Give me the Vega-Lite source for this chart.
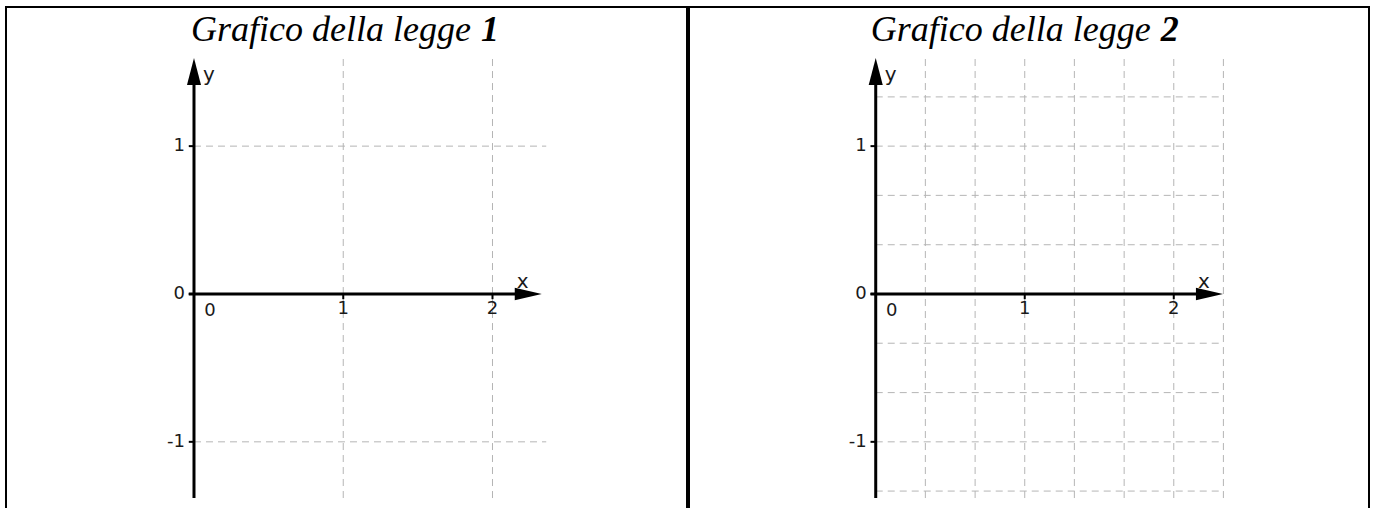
{
  "$schema": "https://vega.github.io/schema/vega-lite/v6.json",
  "padding": {"left": 5, "top": 6, "right": 0, "bottom": 0},
  "spacing": 0,
  "background": "white",
  "config": {"view": {"stroke": "black", "strokeWidth": 2}},
  "datasets": {
    "grid1": [
      {"x": 1, "y": -1.38, "x2": 1, "y2": 1.6},
      {"x": 2, "y": -1.38, "x2": 2, "y2": 1.6},
      {"x": 0, "y": 1, "x2": 2.36, "y2": 1},
      {"x": 0, "y": -1, "x2": 2.36, "y2": -1}
    ],
    "grid2": [
      {"x": 0.333, "y": -1.38, "x2": 0.333, "y2": 1.6},
      {"x": 0.667, "y": -1.38, "x2": 0.667, "y2": 1.6},
      {"x": 1, "y": -1.38, "x2": 1, "y2": 1.6},
      {"x": 1.333, "y": -1.38, "x2": 1.333, "y2": 1.6},
      {"x": 1.667, "y": -1.38, "x2": 1.667, "y2": 1.6},
      {"x": 2, "y": -1.38, "x2": 2, "y2": 1.6},
      {"x": 2.333, "y": -1.38, "x2": 2.333, "y2": 1.6},
      {"x": 0, "y": 1.333, "x2": 2.333, "y2": 1.333},
      {"x": 0, "y": 1, "x2": 2.333, "y2": 1},
      {"x": 0, "y": 0.667, "x2": 2.333, "y2": 0.667},
      {"x": 0, "y": 0.333, "x2": 2.333, "y2": 0.333},
      {"x": 0, "y": -0.333, "x2": 2.333, "y2": -0.333},
      {"x": 0, "y": -0.667, "x2": 2.333, "y2": -0.667},
      {"x": 0, "y": -1, "x2": 2.333, "y2": -1},
      {"x": 0, "y": -1.333, "x2": 2.333, "y2": -1.333}
    ],
    "axes": [
      {"x": 0, "y": -1.38, "x2": 0, "y2": 1.5},
      {"x": -0.035, "y": 0, "x2": 2.22, "y2": 0}
    ],
    "ticks": [
      {"x": -0.035, "y": 1, "x2": 0, "y2": 1},
      {"x": -0.035, "y": 0, "x2": 0, "y2": 0},
      {"x": -0.035, "y": -1, "x2": 0, "y2": -1},
      {"x": 1, "y": 0, "x2": 1, "y2": -0.035},
      {"x": 2, "y": 0, "x2": 2, "y2": -0.035}
    ],
    "arrows": [
      {"x": 0, "y": 1.596, "dir": "up"},
      {"x": 2.33, "y": 0, "dir": "right"}
    ],
    "ylabels": [
      {"x": 0, "y": 1, "t": "1"},
      {"x": 0, "y": 0, "t": "0"},
      {"x": 0, "y": -1, "t": "-1"}
    ],
    "xlabels": [
      {"x": 1, "y": 0, "t": "1"},
      {"x": 2, "y": 0, "t": "2"}
    ],
    "origin": [
      {"x": 0, "y": 0, "t": "0"}
    ]
  },
  "hconcat": [
    {
      "width": 681,
      "height": 503,
      "encoding": {
        "x": {"field": "x", "type": "quantitative", "scale": {"domain": [-1.2596, 3.3032], "nice": false, "zero": false}, "axis": null},
        "y": {"field": "y", "type": "quantitative", "scale": {"domain": [-1.461, 1.941], "nice": false, "zero": false}, "axis": null}
      },
      "layer": [
        {"data": {"name": "grid1"}, "mark": {"type": "rule", "stroke": "#b5b5b5", "strokeWidth": 1, "strokeDash": [7, 5]}, "encoding": {"x2": {"field": "x2"}, "y2": {"field": "y2"}}},
        {"data": {"name": "axes"}, "mark": {"type": "rule", "stroke": "#000000", "strokeWidth": 3}, "encoding": {"x2": {"field": "x2"}, "y2": {"field": "y2"}}},
        {"data": {"name": "ticks"}, "mark": {"type": "rule", "stroke": "#000000", "strokeWidth": 2}, "encoding": {"x2": {"field": "x2"}, "y2": {"field": "y2"}}},
        {"data": {"name": "arrows"}, "mark": {"type": "point", "filled": true, "opacity": 1, "color": "#000000", "strokeWidth": 0, "size": 729},
         "encoding": {"shape": {"field": "dir", "type": "nominal", "scale": {"domain": ["up", "right"], "range": ["M0,0L0.52,2L-0.52,2Z", "M0,0L-2,0.47L-2,-0.47Z"]}, "legend": null}}},
        {"data": {"name": "ylabels"}, "mark": {"type": "text", "font": "DejaVu Sans", "fontSize": 18, "color": "#1a1a1a", "align": "right", "baseline": "middle", "dx": -9}, "encoding": {"text": {"field": "t"}}},
        {"data": {"name": "xlabels"}, "mark": {"type": "text", "font": "DejaVu Sans", "fontSize": 18, "color": "#1a1a1a", "align": "center", "baseline": "middle", "dy": 15}, "encoding": {"text": {"field": "t"}}},
        {"data": {"name": "origin"}, "mark": {"type": "text", "font": "DejaVu Sans", "fontSize": 18, "color": "#1a1a1a", "align": "center", "baseline": "middle", "dx": 16, "dy": 17}, "encoding": {"text": {"field": "t"}}},
        {"data": {"name": "arrows"}, "transform": [{"filter": "datum.dir === 'right'"}], "mark": {"type": "text", "text": "x", "font": "DejaVu Sans", "fontSize": 20, "color": "#1a1a1a", "align": "center", "baseline": "middle", "dx": -19, "dy": -12}},
        {"data": {"name": "arrows"}, "transform": [{"filter": "datum.dir === 'up'"}], "mark": {"type": "text", "text": "y", "font": "DejaVu Sans", "fontSize": 20, "color": "#1a1a1a", "align": "center", "baseline": "middle", "dx": 15, "dy": 17}},
        {"data": {"name": "arrows"}, "transform": [{"filter": "datum.dir === 'up'"}], "mark": {"type": "text", "text": "Grafico della legge ", "font": "Liberation Serif", "fontStyle": "italic", "fontSize": 36, "color": "#000000", "align": "left", "baseline": "alphabetic", "dx": -3, "dy": -17}},
        {"data": {"name": "arrows"}, "transform": [{"filter": "datum.dir === 'up'"}], "mark": {"type": "text", "text": "1", "font": "Liberation Serif", "fontStyle": "italic", "fontWeight": "bold", "fontSize": 36, "color": "#000000", "align": "left", "baseline": "alphabetic", "dx": 287, "dy": -17}}
      ]
    },
    {
      "width": 680,
      "height": 503,
      "encoding": {
        "x": {"field": "x", "type": "quantitative", "scale": {"domain": [-1.253, 3.3101], "nice": false, "zero": false}, "axis": null},
        "y": {"field": "y", "type": "quantitative", "scale": {"domain": [-1.461, 1.941], "nice": false, "zero": false}, "axis": null}
      },
      "layer": [
        {"data": {"name": "grid2"}, "mark": {"type": "rule", "stroke": "#b5b5b5", "strokeWidth": 1, "strokeDash": [7, 5]}, "encoding": {"x2": {"field": "x2"}, "y2": {"field": "y2"}}},
        {"data": {"name": "axes"}, "mark": {"type": "rule", "stroke": "#000000", "strokeWidth": 3}, "encoding": {"x2": {"field": "x2"}, "y2": {"field": "y2"}}},
        {"data": {"name": "ticks"}, "mark": {"type": "rule", "stroke": "#000000", "strokeWidth": 2}, "encoding": {"x2": {"field": "x2"}, "y2": {"field": "y2"}}},
        {"data": {"name": "arrows"}, "mark": {"type": "point", "filled": true, "opacity": 1, "color": "#000000", "strokeWidth": 0, "size": 729},
         "encoding": {"shape": {"field": "dir", "type": "nominal", "scale": {"domain": ["up", "right"], "range": ["M0,0L0.52,2L-0.52,2Z", "M0,0L-2,0.47L-2,-0.47Z"]}, "legend": null}}},
        {"data": {"name": "ylabels"}, "mark": {"type": "text", "font": "DejaVu Sans", "fontSize": 18, "color": "#1a1a1a", "align": "right", "baseline": "middle", "dx": -9}, "encoding": {"text": {"field": "t"}}},
        {"data": {"name": "xlabels"}, "mark": {"type": "text", "font": "DejaVu Sans", "fontSize": 18, "color": "#1a1a1a", "align": "center", "baseline": "middle", "dy": 15}, "encoding": {"text": {"field": "t"}}},
        {"data": {"name": "origin"}, "mark": {"type": "text", "font": "DejaVu Sans", "fontSize": 18, "color": "#1a1a1a", "align": "center", "baseline": "middle", "dx": 16, "dy": 17}, "encoding": {"text": {"field": "t"}}},
        {"data": {"name": "arrows"}, "transform": [{"filter": "datum.dir === 'right'"}], "mark": {"type": "text", "text": "x", "font": "DejaVu Sans", "fontSize": 20, "color": "#1a1a1a", "align": "center", "baseline": "middle", "dx": -19, "dy": -12}},
        {"data": {"name": "arrows"}, "transform": [{"filter": "datum.dir === 'up'"}], "mark": {"type": "text", "text": "y", "font": "DejaVu Sans", "fontSize": 20, "color": "#1a1a1a", "align": "center", "baseline": "middle", "dx": 15, "dy": 17}},
        {"data": {"name": "arrows"}, "transform": [{"filter": "datum.dir === 'up'"}], "mark": {"type": "text", "text": "Grafico della legge ", "font": "Liberation Serif", "fontStyle": "italic", "fontSize": 36, "color": "#000000", "align": "left", "baseline": "alphabetic", "dx": -5, "dy": -17}},
        {"data": {"name": "arrows"}, "transform": [{"filter": "datum.dir === 'up'"}], "mark": {"type": "text", "text": "2", "font": "Liberation Serif", "fontStyle": "italic", "fontWeight": "bold", "fontSize": 36, "color": "#000000", "align": "left", "baseline": "alphabetic", "dx": 285, "dy": -17}}
      ]
    }
  ]
}
